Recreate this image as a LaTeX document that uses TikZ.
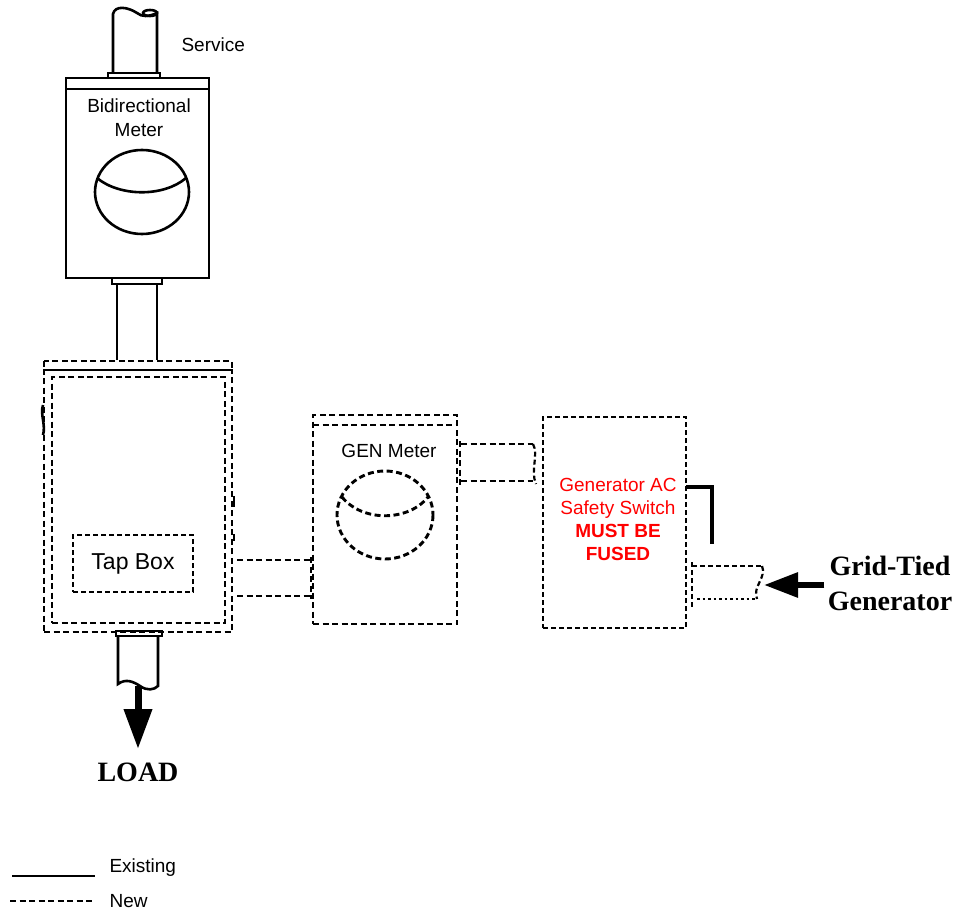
\documentclass[tikz,border=0pt]{standalone}
\usepackage{fontspec}
\setmainfont{Liberation Sans}
\newfontfamily\timesfont{Liberation Serif}
\usetikzlibrary{arrows.meta}

\tikzset{
  existing/.style={draw, line width=2.6pt},
  newline/.style={draw, line width=2.9pt, dash pattern=on 6pt off 3.5pt},
  newthin/.style={draw, line width=2.2pt, dash pattern=on 5pt off 3pt},
  dotline/.style={draw, line width=2.2pt, dash pattern=on 2.5pt off 3pt},
  boxnode/.style={inner sep=0pt, outer sep=0pt},
  lbl/.style={font=\fontsize{19}{24}\selectfont, align=center},
  biglbl/.style={font=\timesfont\bfseries\fontsize{28}{35}\selectfont, align=center},
  redlbl/.style={lbl, text=red, font=\fontsize{19}{23}\selectfont},
}

\begin{document}
\begin{tikzpicture}[x=1pt, y=-1pt]
\useasboundingbox (0,0) rectangle (956,912);

% service pipe
\draw[existing] (113,74) -- (113,14) .. controls (115,5) and (128,7) .. (137,13)
  .. controls (142,17) and (148,17) .. (157,13) -- (157,74);
\draw[existing] (150,13) ellipse (7 and 3);
\node[lbl, anchor=west] (service) at (178,45) {Service};
\draw[existing] (108,73) rectangle (160,78);

% bidirectional meter
\node[existing, boxnode, minimum width=143pt, minimum height=200pt] (bimeter) at (137.5,178) {};
\draw[existing] (bimeter.north west) ++(0,11) -- ++(143,0);
\node[lbl] (bimetertext) at (139,118) {Bidirectional\\Meter};
\draw[existing] (142,192) ellipse (47 and 42);
\draw[existing] (97,178) .. controls (120,197) and (164,197) .. (186,178);

% pipe down to tap box
\draw[existing] (112,278) rectangle (162,284);
\draw[existing] (117,284) -- (117,360);
\draw[existing] (157,284) -- (157,360);

% tap box
\draw[newline] (44,361) rectangle (232,370);
\node[newline, boxnode, minimum width=188pt, minimum height=262pt] (tapouter) at (138,501) {};
\node[newline, boxnode, minimum width=173pt, minimum height=246pt] (tapinner) at (138.5,500) {};
\node[newthin, boxnode, minimum width=120pt, minimum height=57pt,
  font=\fontsize{23}{28}\selectfont] (tapbox) at (133,563.5) {Tap Box};
\draw[existing] (43,405) .. controls (40,415) and (46,425) .. (43,435);
\draw[existing] (234,496) -- (234,507);
\draw[existing] (234,534) -- (234,541);

% load pipe
\draw[existing] (116,631) rectangle (162,636);
\draw[existing] (118,636) -- (118,684) .. controls (126,678) and (134,682) .. (140,686)
  .. controls (147,691) and (154,690) .. (158,686) -- (158,636);
\coordinate (loadpipe) at (138,686);
\coordinate (loadtip) at (138,749);
\node[biglbl] (load) at (138,772) {LOAD};
\draw[line width=7pt, -{Triangle[length=40pt,width=27pt]}] (loadpipe) -- (loadtip);

% conduit tap box to gen meter
\draw[newline] (237,560) -- (311,560);
\draw[newline] (237,596) -- (311,596);
\draw[newline] (311,557) -- (311,599);

% gen meter
\node[newline, boxnode, minimum width=144pt, minimum height=209pt] (genmeter) at (385,519.5) {};
\draw[newline] (genmeter.north west) ++(0,10) -- ++(144,0);
\node[lbl] (genmetertext) at (389,451) {GEN Meter};
\draw[newline] (385,515) ellipse (48 and 44);
\draw[newline] (342,497) .. controls (362,522) and (408,522) .. (428,497);

% conduit gen meter to switch
\draw[newline] (461,444) -- (533,444);
\draw[newline] (461,481) -- (533,481);
\draw[newline] (460,441) -- (460,488);
\draw[newthin] (533,444) .. controls (539,455) and (530,470) .. (536,484);

% safety switch
\node[newthin, boxnode, minimum width=143pt, minimum height=211pt] (switch) at (614.5,522.5) {};
\node[redlbl] (switchtext) at (618,519) {Generator AC\\Safety Switch\\\textbf{MUST BE}\\\textbf{FUSED}};
\draw[line width=4.5pt] (686,487) -- (712,487) -- (712,544);

% conduit to generator
\draw[newthin] (692,562) -- (692,608);
\draw[newthin] (692,566) -- (762,566);
\draw[dotline] (697,599) -- (757,599);
\draw[newthin] (762,566) .. controls (767,577) and (752,587) .. (757,599);
\coordinate (conduitend) at (764,585);

% generator
\node[biglbl] (gridgen) at (890,583) {Grid-Tied\\Generator};
\draw[line width=6pt, -{Triangle[length=34pt,width=24pt]}] (gridgen.west |- 0,585) -- (conduitend);

% legend
\draw[existing] (12,876) -- (95,876);
\node[lbl, anchor=west] (existingtext) at (106,868) {Existing};
\draw[newline, line width=2.2pt] (10,901) -- (92,901);
\node[lbl, anchor=west] (newtext) at (106,901) {New};

\end{tikzpicture}
\end{document}
